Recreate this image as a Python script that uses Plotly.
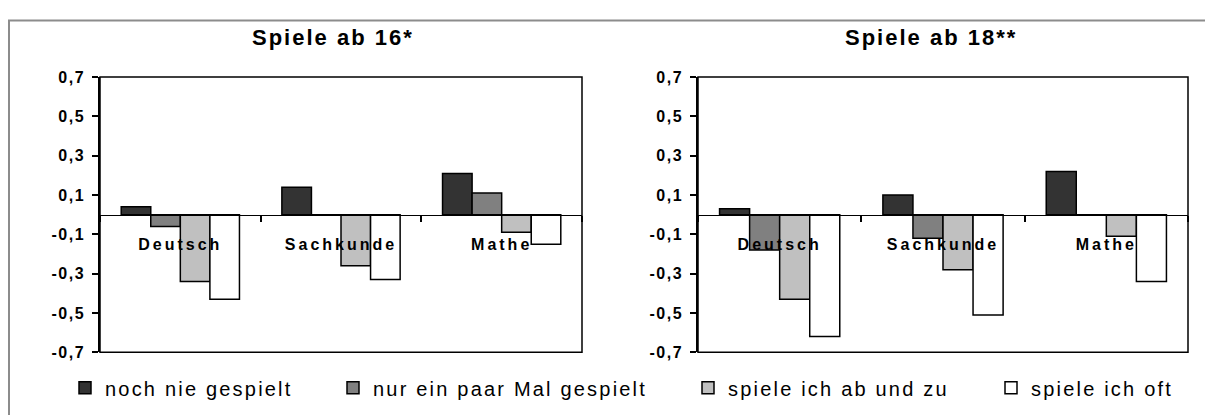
import plotly.graph_objects as go

# ---------------- data ----------------
categories = ["Deutsch", "Sachkunde", "Mathe"]
series_names = ["noch nie gespielt", "nur ein paar Mal gespielt",
                "spiele ich ab und zu", "spiele ich oft"]

# Spiele ab 16*
ab16_noch_nie = [0.04, 0.14, 0.21]
ab16_paar_mal = [-0.06, 0.0, 0.11]
ab16_ab_und_zu = [-0.34, -0.26, -0.09]
ab16_oft = [-0.43, -0.33, -0.15]

# Spiele ab 18**
ab18_noch_nie = [0.03, 0.10, 0.22]
ab18_paar_mal = [-0.18, -0.12, 0.0]
ab18_ab_und_zu = [-0.43, -0.28, -0.11]
ab18_oft = [-0.62, -0.51, -0.34]

panel_titles = ["Spiele ab 16*", "Spiele ab 18**"]
y_tickvals = [0.7, 0.5, 0.3, 0.1, -0.1, -0.3, -0.5, -0.7]
y_ticklabels = ["0,7", "0,5", "0,3", "0,1", "-0,1", "-0,3", "-0,5", "-0,7"]

# ---------------- style ----------------
W, H = 1205, 415
FONT = "Liberation Sans, Arial, Helvetica, sans-serif"
colors = ["#333333", "#808080", "#C0C0C0", "#FFFFFF"]


def ls(text, px):
    return f'<span style="letter-spacing:{px}px">{text}</span>'


def px_x(p):
    return p / W


def px_y(p):
    return 1 - p / H


x1_dom = [px_x(100), px_x(582)]
x2_dom = [px_x(698), px_x(1188)]
y_dom = [px_y(359), px_y(72)]
y_mid = (y_dom[0] + y_dom[1]) / 2

fig = go.Figure()

panels = [
    ("x", "y", [ab16_noch_nie, ab16_paar_mal, ab16_ab_und_zu, ab16_oft], True),
    ("x2", "y2", [ab18_noch_nie, ab18_paar_mal, ab18_ab_und_zu, ab18_oft], False),
]
legend_ids = ["legend", "legend2", "legend3", "legend4"]
for xa, ya, vals, show in panels:
    for i, (name, v) in enumerate(zip(series_names, vals)):
        fig.add_trace(go.Bar(
            x=categories, y=v, name=ls(name, 2.2),
            marker=dict(color=colors[i], line=dict(color="black", width=1.5)),
            xaxis=xa, yaxis=ya, showlegend=show, legend=legend_ids[i],
            hoverinfo="skip",
        ))

cat_text = [ls(f"<b>{c}</b>", 3) for c in categories]
ytext = [ls(f"<b>{t}</b>", 1.5) for t in y_ticklabels]

xcommon = dict(
    type="category", tickmode="array", tickvals=categories, ticktext=cat_text,
    tickson="boundaries", ticks="outside", ticklen=6, tickcolor="black",
    tickwidth=1.5, showline=True, linecolor="black", linewidth=1.2,
    showgrid=False, zeroline=False, anchor="free", position=y_mid,
    tickfont=dict(family=FONT, size=16, color="black"),
    ticklabelstandoff=15, fixedrange=True,
)
ycommon = dict(
    range=[-0.7, 0.7], tickmode="array", tickvals=y_tickvals, ticktext=ytext,
    ticks="outside", ticklen=6, tickcolor="black", tickwidth=1.5,
    showline=True, linecolor="black", linewidth=1.5, showgrid=False,
    zeroline=False, tickfont=dict(family=FONT, size=16, color="black"),
    ticklabelstandoff=4, fixedrange=True, domain=y_dom,
)

fig.update_layout(
    width=W, height=H,
    margin=dict(l=0, r=0, t=0, b=0),
    paper_bgcolor="white", plot_bgcolor="white",
    barmode="group", bargap=0.264, bargroupgap=0,
    font=dict(family=FONT, color="black"),
    xaxis=dict(domain=x1_dom, **xcommon),
    xaxis2=dict(domain=x2_dom, **xcommon),
    yaxis=dict(anchor="x", **ycommon),
    yaxis2=dict(anchor="x2", **ycommon),
)

# legends, one per series, laid out horizontally under the panels
legend_x_px = [79, 347, 702, 1005]
for lid, xp in zip(legend_ids, legend_x_px):
    fig.update_layout({lid: dict(
        x=px_x(xp - 14), y=px_y(396), xanchor="left", yanchor="middle",
        orientation="h", bgcolor="rgba(0,0,0,0)", borderwidth=0,
        font=dict(family=FONT, size=20, color="black"),
    )})

# panel frames and outer chart border
shapes = []
for xa, ya in [("x", "y"), ("x2", "y2")]:
    shapes.append(dict(type="rect", xref=f"{xa} domain", yref=f"{ya} domain",
                       x0=0, x1=1, y0=0, y1=1,
                       line=dict(color="black", width=1.5)))
shapes.append(dict(type="rect", xref="paper", yref="paper",
                   x0=px_x(9), x1=1.05, y0=-0.1, y1=px_y(13),
                   line=dict(color="#8c8c8c", width=2)))
fig.update_layout(shapes=shapes)

# panel titles
title_x_px = [333, 931]
for t, xp in zip(panel_titles, title_x_px):
    fig.add_annotation(text=ls(f"<b>{t}</b>", 2), x=px_x(xp), y=px_y(31),
                       xref="paper", yref="paper", showarrow=False,
                       xanchor="center", yanchor="middle",
                       font=dict(family=FONT, size=22, color="black"))

fig.write_html(
    "out.html",
    config={"displayModeBar": False},
    post_script="document.body.style.margin='0';"
                "document.body.style.overflow='hidden';",
)
